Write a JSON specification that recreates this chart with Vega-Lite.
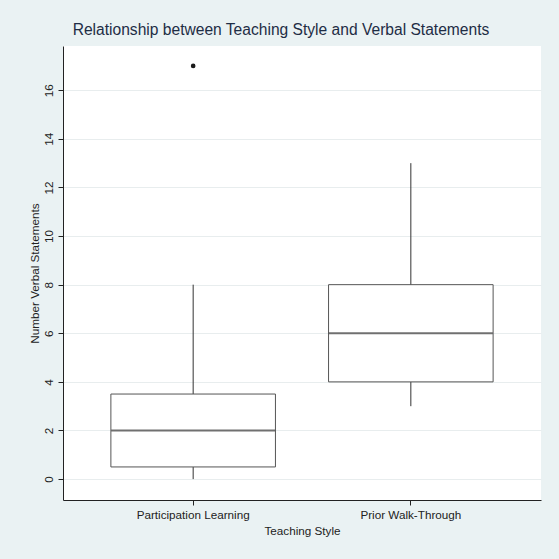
{
  "$schema": "https://vega.github.io/schema/vega-lite/v6.json",
  "width": 478,
  "height": 454,
  "autosize": {"type": "none"},
  "padding": {"left": 63, "top": 46, "right": 18, "bottom": 59},
  "background": "#EAF2F3",
  "config": {
    "font": "Liberation Sans",
    "view": {"fill": "white", "stroke": null},
    "axis": {
      "labelFont": "Liberation Sans",
      "titleFont": "Liberation Sans",
      "labelFontSize": 11.7,
      "titleFontSize": 11.7,
      "titleFontWeight": "normal",
      "labelColor": "#222222",
      "titleColor": "#222222",
      "domainColor": "#222222",
      "tickColor": "#222222",
      "tickSize": 5,
      "gridColor": "#E8EDEE",
      "gridWidth": 1
    }
  },
  "title": {
    "text": "Relationship between Teaching Style and Verbal Statements",
    "font": "Liberation Sans",
    "fontSize": 15.6,
    "fontWeight": "normal",
    "color": "#1E2D45",
    "anchor": "middle",
    "frame": "group",
    "dx": -21,
    "offset": 7
  },
  "datasets": {
    "boxes": [
      {"style": "Participation Learning", "lower": 0, "q1": 0.5, "median": 2, "q3": 3.5, "upper": 8},
      {"style": "Prior Walk-Through", "lower": 3, "q1": 4, "median": 6, "q3": 8, "upper": 13}
    ],
    "outliers": [
      {"style": "Participation Learning", "statements": 17}
    ]
  },
  "encoding": {
    "x": {
      "field": "style",
      "type": "nominal",
      "title": "Teaching Style",
      "scale": {"paddingInner": 0.244, "paddingOuter": 0.22},
      "axis": {"labelAngle": 0, "labelPadding": 4, "titlePadding": 5, "grid": false}
    }
  },
  "layer": [
    {
      "data": {"name": "boxes"},
      "mark": {"type": "rule", "color": "#333333", "strokeWidth": 1},
      "encoding": {
        "y": {
          "field": "lower",
          "type": "quantitative",
          "title": "Number Verbal Statements",
          "scale": {"domain": [-0.86, 17.82], "nice": false, "zero": false},
          "axis": {
            "values": [0, 2, 4, 6, 8, 10, 12, 14, 16],
            "labelAngle": 270,
            "labelPadding": 4,
            "titlePadding": 3,
            "grid": true
          }
        },
        "y2": {"field": "upper"}
      }
    },
    {
      "data": {"name": "boxes"},
      "mark": {"type": "bar", "fill": "white", "stroke": "#555555", "strokeWidth": 1},
      "encoding": {
        "y": {"field": "q1", "type": "quantitative"},
        "y2": {"field": "q3"}
      }
    },
    {
      "data": {"name": "boxes"},
      "mark": {"type": "tick", "color": "#333333", "thickness": 2, "size": 164},
      "encoding": {
        "y": {"field": "median", "type": "quantitative"}
      }
    },
    {
      "data": {"name": "outliers"},
      "mark": {"type": "point", "filled": true, "color": "#1A1A1A", "size": 22, "opacity": 1},
      "encoding": {
        "y": {"field": "statements", "type": "quantitative"}
      }
    }
  ]
}
